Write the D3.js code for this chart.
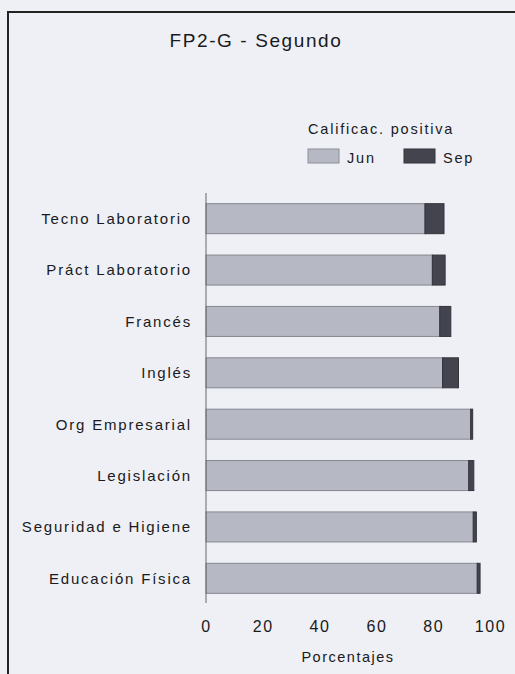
<!DOCTYPE html>
<html>
<head>
<meta charset="utf-8">
<script src="https://cdn.jsdelivr.net/npm/d3@7"></script>
<style>
    html, body { margin: 0; padding: 0; background: #eef0f6; }
    svg text { font-family: "Liberation Sans", Arial, sans-serif; fill: #1a1a20; }
</style>
</head>
<body>
<script>
// categorias de arriba a abajo
const asignaturas = ['Tecno Laboratorio', 'Práct Laboratorio', 'Francés', 'Inglés',
    'Org Empresarial', 'Legislación', 'Seguridad e Higiene', 'Educación Física'];
const junio = [77.1, 79.7, 82.3, 83.3, 93.2, 92.5, 94.1, 95.5];
const septiembre = [6.7, 4.5, 3.9, 5.6, 0.7, 1.8, 1.1, 1.0];
const ticksX = [0, 20, 40, 60, 80, 100];

const ancho = 515, alto = 674;

const svg = d3.select('body').append('svg')
    .attr('width', ancho)
    .attr('height', alto);

// marco
svg.append('path')
    .attr('d', `M8,${alto} L8,12 L${ancho},12`)
    .attr('fill', 'none')
    .attr('stroke', '#222')
    .attr('stroke-width', 2);

const x = d3.scaleLinear().domain([0, 100]).range([206, 490]);
const y = d3.scaleBand().domain(asignaturas).range([193, 604])
    .paddingInner(0.416).paddingOuter(0.208);

svg.append('text')
    .attr('x', 256).attr('y', 47)
    .attr('text-anchor', 'middle')
    .style('font-size', '19px')
    .style('letter-spacing', '1.6px')
    .text('FP2-G - Segundo');

// leyenda
svg.append('text')
    .attr('x', 308).attr('y', 134)
    .style('font-size', '14.5px')
    .style('letter-spacing', '1.8px')
    .text('Calificac. positiva');

const leyenda = [
    { nombre: 'Jun', color: '#b6b8c4', borde: '#8c8e98', x: 308 },
    { nombre: 'Sep', color: '#44444f', borde: '#33333b', x: 404 },
];
leyenda.forEach(l => {
    svg.append('rect')
        .attr('x', l.x).attr('y', 149)
        .attr('width', 31).attr('height', 14)
        .attr('fill', l.color)
        .attr('stroke', l.borde);
    svg.append('text')
        .attr('x', l.x + 39).attr('y', 163)
        .style('font-size', '14.5px')
        .style('letter-spacing', '1.8px')
        .text(l.nombre);
});

// barras
const g = svg.append('g');
asignaturas.forEach((a, i) => {
    g.append('rect')
        .attr('x', x(0))
        .attr('y', y(a))
        .attr('width', x(junio[i]) - x(0))
        .attr('height', y.bandwidth())
        .attr('fill', '#b6b8c4')
        .attr('stroke', '#84868f');
    g.append('rect')
        .attr('x', x(junio[i]))
        .attr('y', y(a))
        .attr('width', x(junio[i] + septiembre[i]) - x(junio[i]))
        .attr('height', y.bandwidth())
        .attr('fill', '#44444f')
        .attr('stroke', '#33333b');
    svg.append('text')
        .attr('x', 192)
        .attr('y', y(a) + y.bandwidth() / 2)
        .attr('dy', '0.36em')
        .attr('text-anchor', 'end')
        .style('font-size', '15px')
        .style('letter-spacing', '1.8px')
        .text(a);
});

// eje vertical
svg.append('line')
    .attr('x1', x(0)).attr('x2', x(0))
    .attr('y1', 193).attr('y2', 603)
    .attr('stroke', '#666')
    .attr('stroke-width', 1);

const ejeX = svg.append('g').attr('transform', 'translate(0,612)')
    .call(d3.axisBottom(x).tickValues(ticksX).tickSize(0).tickPadding(9));
ejeX.select('.domain').remove();
ejeX.selectAll('text')
    .style('font-size', '16px')
    .style('letter-spacing', '1.6px')
    .style('font-family', '"Liberation Sans", Arial, sans-serif')
    .attr('fill', '#1a1a20');

svg.append('text')
    .attr('x', 348).attr('y', 662)
    .attr('text-anchor', 'middle')
    .style('font-size', '14.5px')
    .style('letter-spacing', '1.5px')
    .text('Porcentajes');
</script>
</body>
</html>
